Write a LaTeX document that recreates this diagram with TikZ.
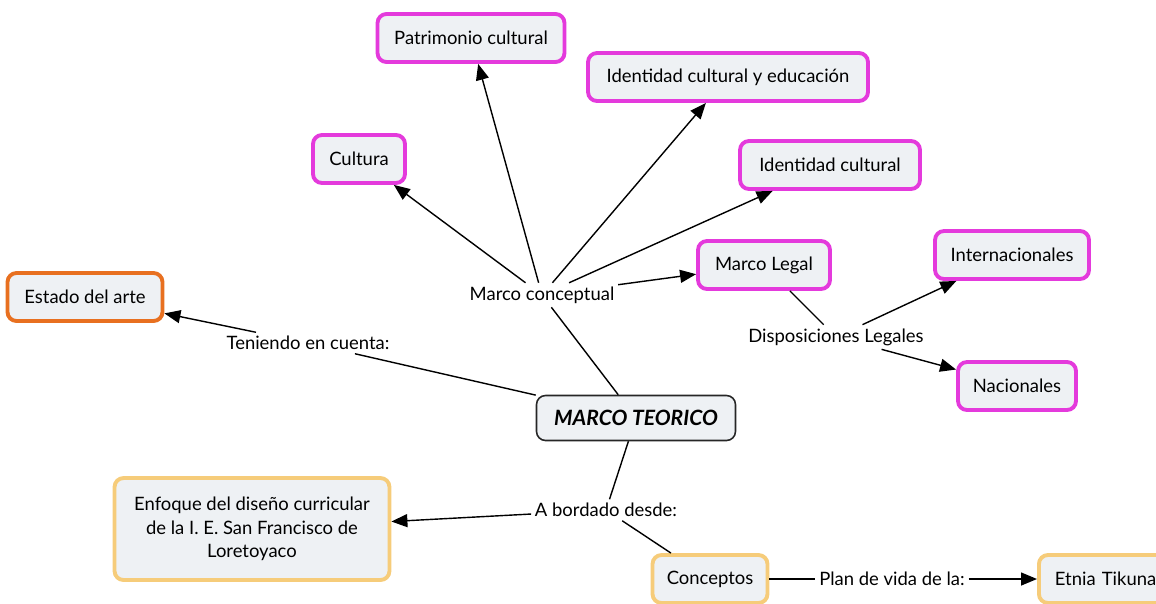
\documentclass[tikz,border=0pt]{standalone}
\usepackage{fontspec}
\setmainfont{Lato}
\usetikzlibrary{arrows.meta}

\definecolor{conceptfill}{RGB}{238,241,244}
\definecolor{pinkline}{RGB}{228,58,220}
\definecolor{orangeline}{RGB}{232,112,32}
\definecolor{goldline}{RGB}{246,204,122}

\begin{document}
\begin{tikzpicture}[x=0.02cm,y=-0.02cm]
\tikzstyle{concept}=[rectangle,rounded corners=0.18cm,draw,fill=conceptfill,line width=2.2pt,minimum height=0.96cm,align=center,font=\fontsize{10.5}{13.5}\selectfont]
\tikzstyle{concept_pink}=[concept,draw=pinkline]
\tikzstyle{concept_orange}=[concept,draw=orangeline]
\tikzstyle{concept_gold}=[concept,draw=goldline]
\tikzstyle{root}=[concept,draw=black!85,line width=0.9pt,minimum height=0.9cm,font=\fontsize{12}{14}\selectfont\bfseries\itshape]
\tikzstyle{phrase}=[inner sep=2pt,font=\fontsize{10.5}{13.5}\selectfont]
\tikzstyle{link}=[line width=0.8pt]
\tikzstyle{link_arrow}=[line width=0.8pt,-{Triangle[length=0.32cm,width=0.26cm]}]

\useasboundingbox (0,0) rectangle (1156,603);

\node[concept_pink,minimum width=3.74cm] (patrimonio) at (471,38) {Patrimonio cultural};
\node[concept_pink,minimum width=5.6cm] (identidad_edu) at (728,77) {Identidad cultural y educación};
\node[concept_pink,minimum width=1.84cm] (cultura) at (359,159) {Cultura};
\node[concept_pink,minimum width=3.6cm] (identidad) at (830,165) {Identidad cultural};
\node[concept_pink,minimum width=2.64cm] (marco_legal) at (764,265) {Marco Legal};
\node[concept_pink,minimum width=3.08cm] (internacionales) at (1012,255) {Internacionales};
\node[concept_pink,minimum width=2.36cm] (nacionales) at (1017,386) {Nacionales};
\node[concept_orange,minimum width=3.1cm] (estado) at (85,297) {Estado del arte};
\node[root,minimum width=3.98cm] (teorico) at (636,418) {MARCO TEORICO};
\node[concept_gold,minimum width=5.5cm,minimum height=2.04cm] (enfoque) at (252,529) {Enfoque del diseño curricular\\de la I. E. San Francisco de\\Loretoyaco};
\node[concept_gold,minimum width=2.3cm] (conceptos) at (710,579) {Conceptos};
\node[concept_gold,minimum width=3.2cm,anchor=west,text width=2.6cm,align=left] (etnia) at (1037,579) {\hspace*{0.02cm}Etnia Tikuna};

\node[phrase] (marco_conceptual) at (542,295) {Marco conceptual};
\node[phrase] (teniendo) at (308,343) {Teniendo en cuenta:};
\node[phrase] (disposiciones) at (836,337) {Disposiciones Legales};
\node[phrase] (abordado) at (606,510) {A bordado desde:};
\node[phrase] (plan_vida) at (892,579) {Plan de vida de la:};

\draw[link] (teorico) -- (marco_conceptual);
\draw[link_arrow] (marco_conceptual) -- (cultura);
\draw[link_arrow] (marco_conceptual) -- (patrimonio);
\draw[link_arrow] (marco_conceptual) -- (identidad_edu);
\draw[link_arrow] (marco_conceptual) -- (identidad);
\draw[link_arrow] (marco_conceptual) -- (marco_legal);

\draw[link] (teorico) -- (teniendo);
\draw[link_arrow] (teniendo) -- (estado);

\draw[link] (marco_legal) -- (disposiciones);
\draw[link_arrow] (disposiciones) -- (internacionales);
\draw[link_arrow] (disposiciones) -- (nacionales);

\draw[link] (teorico) -- (abordado);
\draw[link_arrow] (abordado) -- (enfoque);
\draw[link] (abordado) -- (conceptos);
\draw[link] (conceptos) -- (plan_vida);
\draw[link_arrow] (plan_vida) -- (etnia);

\end{tikzpicture}
\end{document}
